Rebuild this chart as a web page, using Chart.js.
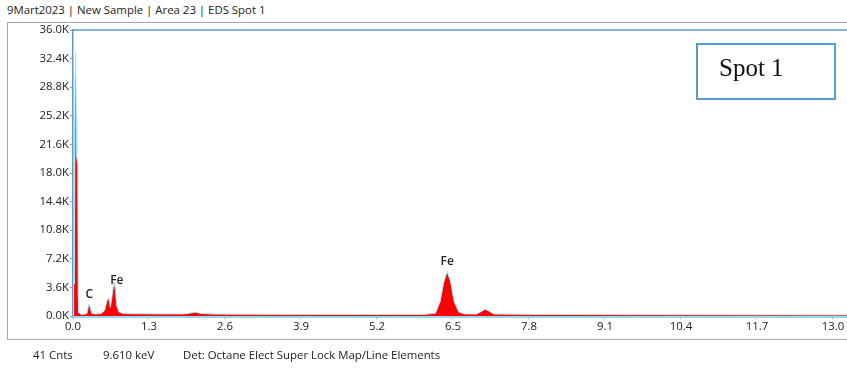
<!DOCTYPE html>
<html>
<head>
<meta charset="utf-8">
<script src="https://cdn.jsdelivr.net/npm/chart.js@4.4.0/dist/chart.umd.min.js"></script>
<style>
  html, body { margin: 0; padding: 0; background: #fff; }
  #wrap { position: relative; width: 847px; height: 369px; font-family: "Open Sans", sans-serif; color: #222; }
  #frame { position: absolute; left: 7px; top: 22px; width: 845px; height: 318px; border: 1px solid #aaa; box-sizing: border-box; }
  #title { position: absolute; left: 7px; top: 2px; font-size: 11.4px; }
  .foot { position: absolute; top: 347px; font-size: 11.4px; }
  #spot { position: absolute; left: 696px; top: 43px; width: 140px; height: 57px; border: 2px solid #5b9bd5; box-sizing: border-box;
          font-family: "Liberation Serif", serif; font-size: 25px; color: #111; padding: 9px 0 0 21px; }
  canvas { position: absolute; left: 0; top: 0; }
</style>
</head>
<body>
<div id="wrap">
  <div id="frame"></div>
  <div id="title">9Mart2023 | New Sample | Area 23 | EDS Spot 1</div>
  <canvas id="grafico" width="847" height="369"></canvas>
  <div id="spot">Spot 1</div>
  <div class="foot" style="left:33px">41 Cnts</div>
  <div class="foot" style="left:103px">9.610 keV</div>
  <div class="foot" style="left:183px">Det: Octane Elect Super Lock Map/Line Elements</div>
</div>
<script>
const energias = [0.00, 0.01, 0.025, 0.035, 0.045, 0.055, 0.065, 0.08, 0.09, 0.10, 0.14, 0.20, 0.24, 0.27, 0.29, 0.32, 0.38, 0.48,
  0.54, 0.58, 0.61, 0.64, 0.67, 0.70, 0.72, 0.75, 0.79, 0.86, 1.00, 1.50, 1.90, 2.02, 2.10, 2.18, 2.40, 3.00, 4.00, 5.00,
  6.00, 6.20, 6.28, 6.34, 6.40, 6.46, 6.52, 6.60, 6.70, 6.90, 6.98, 7.05, 7.12, 7.20, 8.00, 10.00, 13.30];
const contagens = [0, 4500, 4000, 30000, 33200, 25000, 20000, 19000, 2000, 400, 200, 220, 350, 1500, 1200, 350, 250, 300,
  700, 1900, 2300, 1100, 2600, 4300, 3600, 1200, 500, 320, 280, 260, 260, 380, 480, 330, 240, 220, 200, 190,
  200, 350, 1800, 4200, 5600, 4300, 1800, 500, 260, 240, 550, 850, 600, 250, 200, 160, 130];
const yTicks = [0, 3600, 7200, 10800, 14400, 18000, 21600, 25200, 28800, 32400, 36000];
const rotulos = [
  { texto: "C", energia: 0.28, contagem: 1500 },
  { texto: "Fe", energia: 0.75, contagem: 3200 },
  { texto: "Fe", energia: 6.40, contagem: 5600 }
];

const pontos = energias.map((e, i) => ({ x: e, y: contagens[i] }));

const pluginRotulos = {
  id: "rotulos",
  afterDatasetsDraw(chart) {
    const ctx = chart.ctx;
    const xs = chart.scales.x, ys = chart.scales.y;
    ctx.save();
    ctx.font = "600 12px 'Open Sans', sans-serif";
    ctx.fillStyle = "#222";
    ctx.textAlign = "center";
    ctx.textBaseline = "bottom";
    rotulos.forEach(r => {
      ctx.fillText(r.texto, xs.getPixelForValue(r.energia), ys.getPixelForValue(r.contagem) - 4);
    });
    // linha azul no topo da area
    const a = chart.chartArea;
    ctx.strokeStyle = "#5b9bd5";
    ctx.lineWidth = 1.5;
    ctx.beginPath();
    ctx.moveTo(a.left, a.top);
    ctx.lineTo(a.right, a.top);
    ctx.stroke();
    ctx.restore();
  }
};

const ctx = document.getElementById("grafico").getContext("2d");
const myChart = new Chart(ctx, {
  type: "line",
  data: {
    datasets: [
      {
        data: pontos,
        fill: "origin",
        backgroundColor: "#ff0000",
        borderColor: "#a6e9f4",
        borderWidth: 1,
        pointRadius: 0,
        tension: 0,
      },
    ],
  },
  plugins: [pluginRotulos],
  options: {
    responsive: false,
    animation: false,
    layout: { padding: { left: 0, top: 30, right: 0, bottom: 31 } },
    plugins: { legend: { display: false }, tooltip: { enabled: false } },
    scales: {
      x: {
        type: "linear",
        min: 0,
        max: 13.24,
        afterFit(scale) { scale.height = 22; },
        border: { color: "#9dd7ee", width: 3 },
        grid: { display: true, drawOnChartArea: false, tickLength: 3, color: "#999" },
        ticks: {
          stepSize: 1.3,
          includeBounds: false,
          autoSkip: false,
          maxRotation: 0,
          padding: 1,
          color: "#222",
          font: { family: "'Open Sans', sans-serif", size: 11.4 },
          callback: (v) => v.toFixed(1),
        },
      },
      y: {
        min: 0,
        max: 36000,
        afterFit(scale) { scale.width = 73; },
        afterBuildTicks(scale) { scale.ticks = yTicks.map(v => ({ value: v })); },
        border: { color: "#5b9bd5", width: 1.5 },
        grid: { display: true, drawOnChartArea: false, tickLength: 3, color: "#999" },
        ticks: {
          padding: 1,
          color: "#222",
          font: { family: "'Open Sans', sans-serif", size: 11.4 },
          callback: (v) => (v / 1000).toFixed(1) + "K",
        },
      },
    },
  },
});
</script>
</body>
</html>
